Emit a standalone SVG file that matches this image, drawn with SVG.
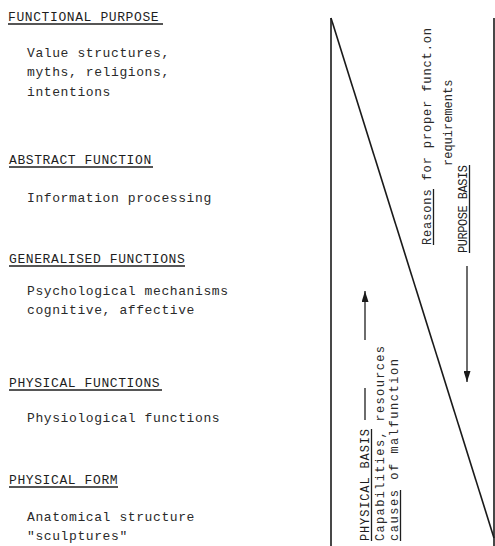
<svg xmlns="http://www.w3.org/2000/svg" width="495" height="546" viewBox="0 0 495 546">
  <style>
    text { font-family: "Liberation Mono", "DejaVu Sans Mono", monospace; font-size: 13px; letter-spacing: 0.6px; fill: #1e1e1e; }
    .body { fill: #2a2a2a; }
    .vert { letter-spacing: 0; font-size: 12px; }
    .rule { stroke: #1e1e1e; stroke-width: 1.3; fill: none; }
    .frame { stroke: #1a1a1a; stroke-width: 1.6; fill: none; }
  </style>
  <defs>
    <marker id="head" viewBox="0 0 11 7" refX="11" refY="3.5" markerWidth="11" markerHeight="7" markerUnits="userSpaceOnUse" orient="auto">
      <path d="M0,0 L11,3.5 L0,7 Z" fill="#1a1a1a"/>
    </marker>
  </defs>
  <rect width="495" height="546" fill="#ffffff"/>

  <!-- abstraction levels -->
  <g id="functional-purpose">
    <text x="8" y="21">FUNCTIONAL PURPOSE</text>
    <line class="rule" x1="8" y1="24" x2="163" y2="24"/>
    <text class="body" x="27" y="57">Value structures,</text>
    <text class="body" x="27" y="76">myths, religions,</text>
    <text class="body" x="27" y="96">intentions</text>
  </g>
  <g id="abstract-function">
    <text x="9" y="164">ABSTRACT FUNCTION</text>
    <line class="rule" x1="9" y1="167" x2="153" y2="167"/>
    <text class="body" x="27" y="202">Information processing</text>
  </g>
  <g id="generalised-functions">
    <text x="9" y="263">GENERALISED FUNCTIONS</text>
    <line class="rule" x1="9" y1="266" x2="185" y2="266"/>
    <text class="body" x="27" y="295">Psychological mechanisms</text>
    <text class="body" x="27" y="314">cognitive, affective</text>
  </g>
  <g id="physical-functions">
    <text x="9" y="387">PHYSICAL FUNCTIONS</text>
    <line class="rule" x1="9" y1="390" x2="162" y2="390"/>
    <text class="body" x="27" y="422">Physiological functions</text>
  </g>
  <g id="physical-form">
    <text x="9" y="484">PHYSICAL FORM</text>
    <line class="rule" x1="9" y1="487" x2="118" y2="487"/>
    <text class="body" x="27" y="521">Anatomical structure</text>
    <text class="body" x="27" y="540">"sculptures"</text>
  </g>

  <!-- basis labels, set vertically -->
  <g id="physical-basis">
    <text class="vert" transform="translate(369,541) rotate(-90)" textLength="112" lengthAdjust="spacing">PHYSICAL BASIS</text>
    <line class="rule" x1="371.5" y1="541" x2="371.5" y2="429"/>
    <text class="body vert" transform="translate(384,541) rotate(-90)" textLength="195" lengthAdjust="spacing">Capabilities, resources</text>
    <text class="body vert" transform="translate(398,541) rotate(-90)" textLength="182" lengthAdjust="spacing">causes of malfunction</text>
    <line class="rule" x1="400.5" y1="541" x2="400.5" y2="490"/>
  </g>
  <g id="purpose-basis">
    <text class="body vert" transform="translate(431,245) rotate(-90)" textLength="217" lengthAdjust="spacing">Reasons for proper funct.on</text>
    <line class="rule" x1="433.5" y1="245" x2="433.5" y2="189"/>
    <text class="body vert" transform="translate(452,166) rotate(-90)">requirements</text>
    <text class="vert" transform="translate(467,253) rotate(-90)" textLength="88" lengthAdjust="spacing">PURPOSE BASIS</text>
    <line class="rule" x1="469.5" y1="253" x2="469.5" y2="165"/>
  </g>

  <!-- triangle frame and direction arrows -->
  <g id="connectors">
    <line class="frame" x1="331" y1="18" x2="331" y2="546"/>
    <line class="frame" x1="331" y1="18" x2="494" y2="538"/>
    <line class="frame" x1="494" y1="18" x2="494" y2="546"/>
    <line class="rule" x1="365" y1="420" x2="365" y2="388"/>
    <line class="rule" x1="365" y1="340" x2="365" y2="291" marker-end="url(#head)"/>
    <line class="rule" x1="467" y1="266" x2="467" y2="382" marker-end="url(#head)"/>
  </g>
</svg>
